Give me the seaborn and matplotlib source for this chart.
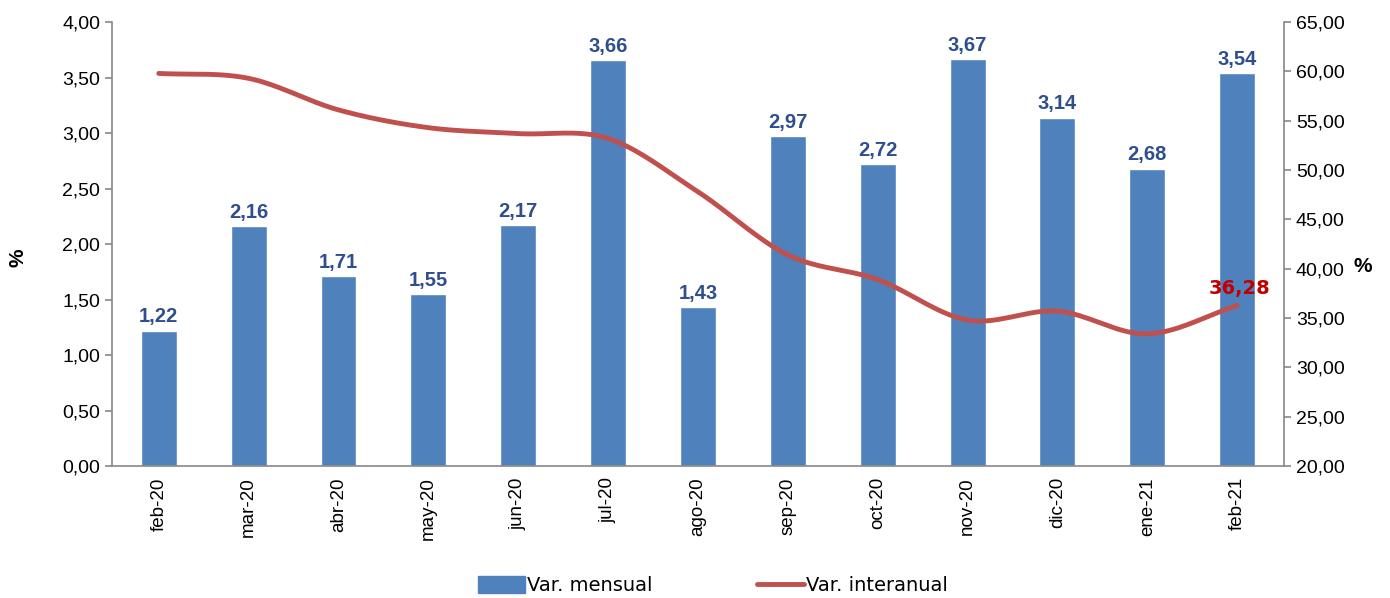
import numpy as np
import pandas as pd
import seaborn as sns
import matplotlib.pyplot as plt
from matplotlib.patches import Patch
from matplotlib.lines import Line2D

meses = ["feb-20", "mar-20", "abr-20", "may-20", "jun-20", "jul-20", "ago-20",
         "sep-20", "oct-20", "nov-20", "dic-20", "ene-21", "feb-21"]
var_mensual = [1.22, 2.16, 1.71, 1.55, 2.17, 3.66, 1.43, 2.97, 2.72, 3.67, 3.14, 2.68, 3.54]
var_interanual = [59.8, 59.3, 56.1, 54.3, 53.7, 53.2, 47.8, 41.4, 38.9, 34.8, 35.7, 33.4, 36.28]

azul = "#4F81BD"
rojo = "#C0504D"

sns.set_theme(style="white")
plt.rcParams['font.family'] = ['Liberation Sans', 'DejaVu Sans']
plt.rcParams['text.color'] = 'black'
plt.rcParams['xtick.color'] = 'black'
plt.rcParams['ytick.color'] = 'black'
plt.rcParams['axes.labelcolor'] = 'black'


def suavizar(y, n=20):
    # curva tipo Catmull-Rom, como la linea suavizada de Excel
    y = np.asarray(y, dtype=float)
    p = np.concatenate([[2 * y[0] - y[1]], y, [2 * y[-1] - y[-2]]])
    xs, ys = [], []
    for i in range(len(y) - 1):
        p0, p1, p2, p3 = p[i], p[i + 1], p[i + 2], p[i + 3]
        t = np.linspace(0, 1, n, endpoint=False)
        v = 0.5 * ((2 * p1) + (-p0 + p2) * t + (2 * p0 - 5 * p1 + 4 * p2 - p3) * t ** 2
                   + (-p0 + 3 * p1 - 3 * p2 + p3) * t ** 3)
        xs.extend(i + t)
        ys.extend(v)
    xs.append(len(y) - 1)
    ys.append(y[-1])
    return np.array(xs), np.array(ys)


df = pd.DataFrame({"mes": meses, "mensual": var_mensual, "interanual": var_interanual})

fig = plt.figure(figsize=(13.9, 5.98), dpi=100)
ax = fig.add_axes([0.0806, 0.2207, 0.8431, 0.7423])
sns.barplot(data=df, x="mes", y="mensual", color=azul, saturation=1, width=0.4, ax=ax)
for p, v in zip(ax.patches, var_mensual):
    ax.annotate(f"{v:.2f}".replace(".", ","), (p.get_x() + p.get_width() / 2, v),
                xytext=(0, 3), textcoords="offset points", ha="center", va="bottom",
                fontsize=14.5, fontweight="bold", color="#2F4E8E")

ax.set_xlim(-0.52, 12.52)
ax.set_ylim(0, 4)
ax.set_yticks(np.arange(0, 4.01, 0.5))
ax.set_yticklabels([f"{t:.2f}".replace(".", ",") for t in np.arange(0, 4.01, 0.5)], fontsize=14)
ax.set_xlabel("")
ax.set_ylabel("%", fontsize=15, fontweight="bold")
ax.yaxis.set_label_coords(-0.072, 0.47)
ax.tick_params(axis="x", rotation=90, labelsize=13.5, length=0, pad=8)
ax.tick_params(axis="y", left=True, length=5, color="#888888", width=1.2)

ax2 = ax.twinx()
xs, ys = suavizar(var_interanual)
sns.lineplot(x=xs, y=ys, color=rojo, linewidth=3.5, ax=ax2, sort=False)
ax2.set_ylim(20, 65)
ax2.set_yticks(np.arange(20, 65.1, 5))
ax2.set_yticklabels([f"{t:.2f}".replace(".", ",") for t in np.arange(20, 65.1, 5)], fontsize=14)
ax2.set_ylabel("%", fontsize=15, fontweight="bold", rotation=0)
ax2.yaxis.set_label_coords(1.067, 0.47)
ax2.tick_params(axis="y", right=True, length=5, color="#888888", width=1.2)
ax2.annotate(f"{var_interanual[-1]:.2f}".replace(".", ","), (12, var_interanual[-1]),
             xytext=(2, 5), textcoords="offset points", ha="center", va="bottom",
             fontsize=14, fontweight="bold", color="#C00000", family="DejaVu Sans")

for a in (ax, ax2):
    a.spines["top"].set_visible(False)
    for s in ["left", "right", "bottom"]:
        a.spines[s].set_color("#888888")
        a.spines[s].set_linewidth(1.2)
ax.spines["right"].set_visible(False)
ax2.spines["left"].set_visible(False)
ax2.spines["bottom"].set_visible(False)

handles = [Patch(color=azul, label="Var. mensual"),
           Line2D([0], [0], color=rojo, linewidth=3.5, label="Var. interanual")]
fig.legend(handles=handles, loc="lower center", ncol=2, frameon=False,
           bbox_to_anchor=(0.513, -0.025), prop={"family": "DejaVu Sans", "size": 14},
           columnspacing=5.4, handlelength=2.4, handleheight=1.0, handletextpad=0.1)

fig.savefig("out.png", dpi=100)
